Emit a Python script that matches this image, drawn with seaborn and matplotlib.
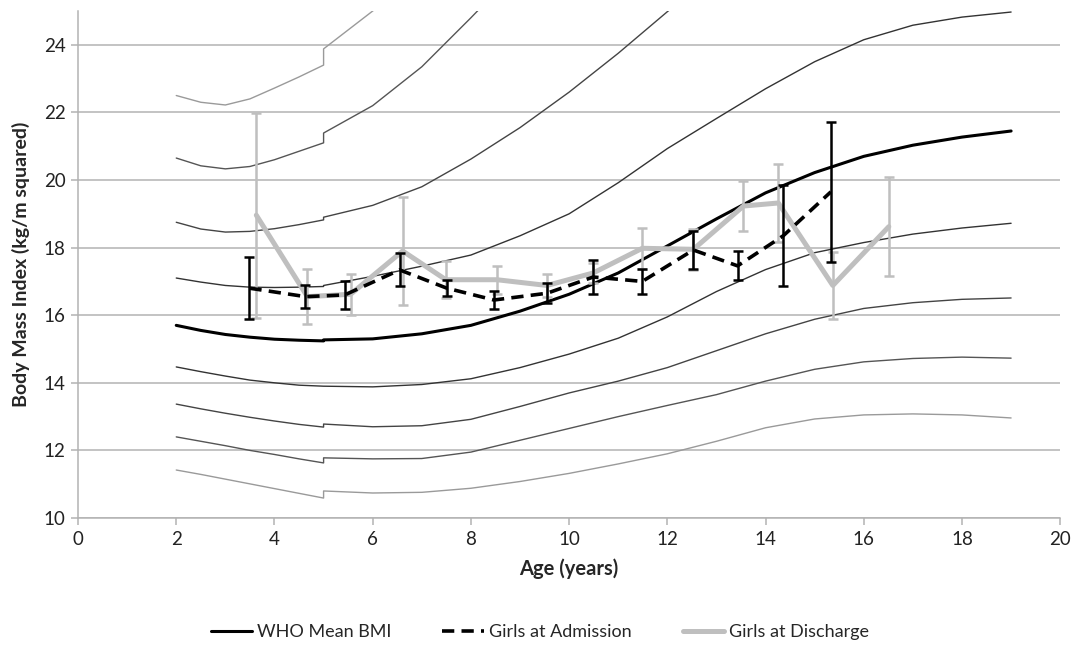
import matplotlib
matplotlib.use("Agg")
import matplotlib.pyplot as plt
import seaborn as sns
import pandas as pd
from matplotlib.lines import Line2D

# ---- reference curves (WHO BMI-for-age, girls) ----
ages = [2, 2.5, 3, 3.5, 4, 4.5, 5, 5, 6, 7, 8, 9, 10, 11, 12, 13, 14, 15, 16, 17, 18, 19]
who_mean = [15.7, 15.55, 15.43, 15.35, 15.29, 15.26, 15.24, 15.27, 15.3, 15.45, 15.7, 16.12, 16.62,
            17.25, 18.05, 18.85, 19.62, 20.22, 20.7, 21.03, 21.27, 21.45]
plus1 = [17.1, 16.98, 16.88, 16.83, 16.82, 16.83, 16.85, 16.88, 17.15, 17.45, 17.78, 18.35, 19.0,
         19.92, 20.93, 21.82, 22.7, 23.5, 24.15, 24.58, 24.82, 24.97]
plus2 = [18.75, 18.55, 18.46, 18.48, 18.56, 18.68, 18.82, 18.9, 19.25, 19.8, 20.62, 21.55, 22.6,
         23.75, 24.98, 26.2]
plus3 = [20.65, 20.42, 20.33, 20.4, 20.6, 20.85, 21.1, 21.39, 22.2, 23.35, 24.8, 26.3]
plus4 = [22.5, 22.3, 22.22, 22.4, 22.72, 23.05, 23.4, 23.88, 25.0, 26.2]
minus1 = [14.47, 14.33, 14.2, 14.08, 14.0, 13.93, 13.9, 13.9, 13.88, 13.95, 14.12, 14.45, 14.85,
          15.32, 15.95, 16.7, 17.35, 17.85, 18.15, 18.4, 18.58, 18.72]
minus2 = [13.37, 13.23, 13.1, 12.98, 12.87, 12.77, 12.69, 12.78, 12.7, 12.73, 12.92, 13.3, 13.7,
          14.05, 14.45, 14.95, 15.45, 15.88, 16.2, 16.37, 16.47, 16.51]
minus3 = [12.4, 12.27, 12.14, 12.0, 11.88, 11.75, 11.63, 11.78, 11.75, 11.76, 11.95, 12.3, 12.65,
          13.0, 13.33, 13.65, 14.05, 14.4, 14.62, 14.72, 14.76, 14.73]
minus4 = [11.42, 11.29, 11.15, 11.01, 10.87, 10.73, 10.59, 10.8, 10.74, 10.76, 10.88, 11.08, 11.32,
          11.6, 11.9, 12.27, 12.67, 12.93, 13.05, 13.08, 13.05, 12.96]

# ---- patient groups ----
adm_age = [3.49, 4.63, 5.43, 6.55, 7.51, 8.47, 9.55, 10.49, 11.49, 12.53, 13.43, 14.36, 15.33]
adm_bmi = [16.8, 16.55, 16.6, 17.34, 16.8, 16.45, 16.65, 17.13, 17.0, 17.93, 17.46, 18.35, 19.65]
adm_err = [0.92, 0.35, 0.41, 0.49, 0.23, 0.28, 0.3, 0.5, 0.38, 0.56, 0.43, 1.5, 2.07]

dis_age = [3.63, 4.67, 5.55, 6.61, 7.49, 8.53, 9.55, 10.49, 11.49, 12.53, 13.55, 14.26, 15.37, 16.51]
dis_bmi = [18.96, 16.55, 16.62, 17.9, 17.05, 17.05, 16.88, 17.25, 17.98, 17.95, 19.23, 19.32, 16.88, 18.62]
dis_err = [3.03, 0.82, 0.6, 1.6, 0.55, 0.42, 0.35, 0.3, 0.6, 0.6, 0.74, 1.15, 1.0, 1.46]

x_ticks = [0, 2, 4, 6, 8, 10, 12, 14, 16, 18, 20]
y_ticks = [10, 12, 14, 16, 18, 20, 22, 24]

sns.set_theme(style="white")
plt.rcParams['font.family'] = ['Lato', 'DejaVu Sans']

fig = plt.figure(figsize=(10.72, 6.48), dpi=100)
ax = fig.add_axes([0.0728, 0.2006, 0.9162, 0.7824])

GRID = "#b3b3b3"
ax.set_axisbelow(True)
ax.yaxis.grid(True, color=GRID, linewidth=1.1)
ax.xaxis.grid(False)

ref = [
    (plus4, "#9a9a9a"), (plus3, "#555555"), (plus2, "#444444"), (plus1, "#333333"),
    (minus1, "#333333"), (minus2, "#444444"), (minus3, "#555555"), (minus4, "#9a9a9a"),
]
for vals, col in ref:
    d = pd.DataFrame({"age": ages[:len(vals)], "bmi": vals})
    sns.lineplot(data=d, x="age", y="bmi", ax=ax, color=col, linewidth=1.0,
                 estimator=None, sort=False, legend=False)

dm = pd.DataFrame({"age": ages, "bmi": who_mean})
sns.lineplot(data=dm, x="age", y="bmi", ax=ax, color="black", linewidth=2.2,
             estimator=None, sort=False, legend=False)

GRAY = "#bfbfbf"
DASH = (0, (3.4, 2.0))
ddis = pd.DataFrame({"age": dis_age, "bmi": dis_bmi})
ax.errorbar(dis_age, dis_bmi, yerr=dis_err, fmt="none", ecolor=GRAY,
            elinewidth=1.8, capsize=3.5, capthick=1.8, zorder=3)
sns.lineplot(data=ddis, x="age", y="bmi", ax=ax, color=GRAY, linewidth=3.6,
             estimator=None, sort=False, legend=False, zorder=3)

dadm = pd.DataFrame({"age": adm_age, "bmi": adm_bmi})
ax.errorbar(adm_age, adm_bmi, yerr=adm_err, fmt="none", ecolor="black",
            elinewidth=1.8, capsize=3.5, capthick=1.8, zorder=4)
sns.lineplot(data=dadm, x="age", y="bmi", ax=ax, color="black", linewidth=2.6,
             linestyle=DASH, estimator=None, sort=False, legend=False, zorder=4)

ax.set_xlim(0, 20)
ax.set_ylim(10, 25)
ax.set_xticks(x_ticks)
ax.set_yticks(y_ticks)
ax.set_xticklabels([str(t) for t in x_ticks])
ax.set_yticklabels([str(t) for t in y_ticks])

for s in ["top", "right"]:
    ax.spines[s].set_visible(False)
for s in ["left", "bottom"]:
    ax.spines[s].set_color(GRID)
    ax.spines[s].set_linewidth(1.1)
ax.tick_params(axis="both", which="both", direction="out", length=5, width=1.1,
               color=GRID, labelsize=13.5, labelcolor="#222222", pad=4,
               bottom=True, left=True)

ax.set_xlabel("Age (years)", fontsize=14.5, fontweight="bold", labelpad=8)
ax.set_ylabel("Body Mass Index (kg/m squared)", fontsize=14, fontweight="bold", labelpad=10)

handles = [
    Line2D([], [], color="black", linewidth=2.2),
    Line2D([], [], color="black", linewidth=2.6, linestyle=DASH),
    Line2D([], [], color=GRAY, linewidth=3.6),
]
labels = ["WHO Mean BMI", "Girls at Admission", "Girls at Discharge"]
fig.legend(handles, labels, loc="center", bbox_to_anchor=(540 / 1072, 0.024), ncol=3,
           frameon=False, fontsize=13, handlelength=2.3, handletextpad=0.3,
           columnspacing=2.8)

fig.savefig("out.png", dpi=100)
